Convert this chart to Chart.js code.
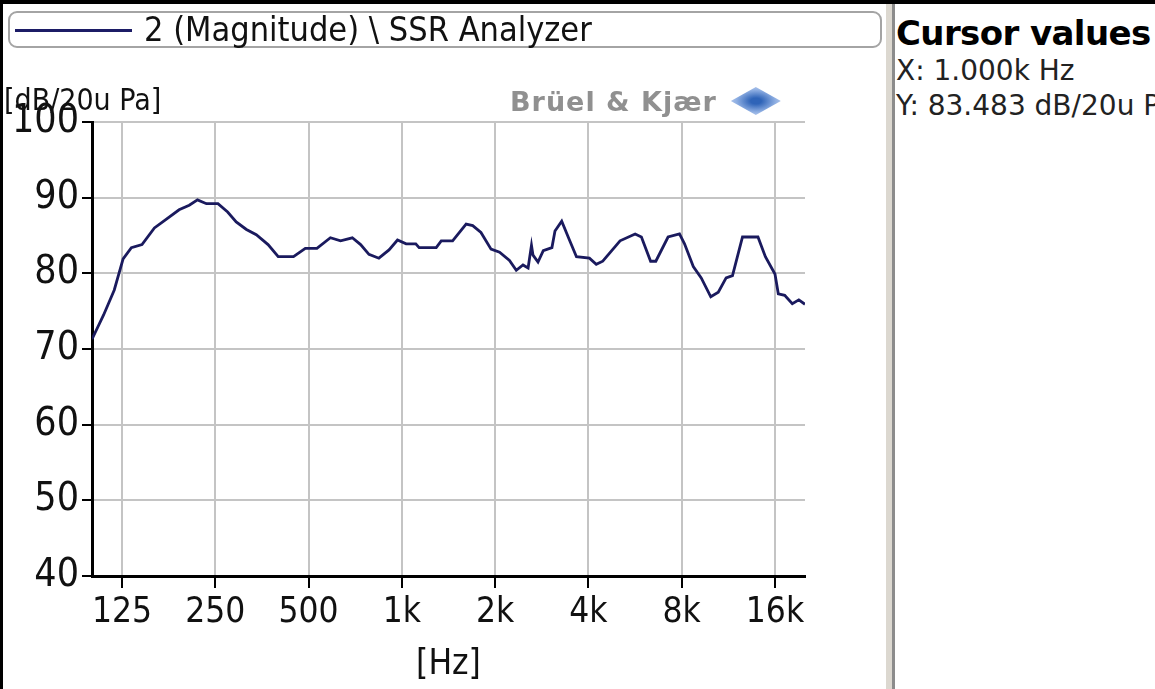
<!DOCTYPE html>
<html>
<head>
<meta charset="utf-8">
<title>SSR Analyzer</title>
<script src="https://cdn.jsdelivr.net/npm/chart.js@4.4.1/dist/chart.umd.min.js"></script>
<style>
  body { margin: 0; background: #fff; }
  #frame { position: relative; width: 1155px; height: 689px; overflow: hidden; background: #fff;
           font-family: 'Liberation Sans Narrow', 'DejaVu Sans Condensed', sans-serif; color: #111; }
  .abs { position: absolute; }
  #legend { left: 8px; top: 11px; width: 870px; height: 33px; border: 2px solid #a4a4a4; border-radius: 9px; }
  #legend .swatch { position: absolute; left: 5px; top: 16px; width: 117px; height: 3px; background: #1c1c66; }
  #legend .label { position: absolute; left: 134px; top: -4px; font-size: 34px; white-space: nowrap; }
  #yunit { left: 4px; top: 82px; font-size: 30px; white-space: nowrap; }
  #logo { left: 510px; top: 86px; font-size: 27px; font-weight: bold; color: #909090; white-space: nowrap;
          font-family: 'DejaVu Sans', sans-serif; letter-spacing: 1px; }
  #logo .mark { display: inline-block; width: 50px; height: 28px; margin-left: 14px; vertical-align: -4px;
                clip-path: polygon(50% 0, 100% 50%, 50% 100%, 0 50%);
                background: radial-gradient(ellipse, #2f64b8 15%, #8eaee2 55%, #dfe8f8 100%); }
  #sep1 { left: 886px; top: 0; width: 6px; height: 689px; background: #dcd8d0; }
  #sep2 { left: 892px; top: 0; width: 3px; height: 689px; background: #8c8c8c; }
  #cursor { left: 896px; top: 0; width: 259px; height: 689px; font-family: 'DejaVu Sans', sans-serif; white-space: nowrap; }
  #cursor .title { position: absolute; left: 0; top: 13px; font-size: 34px; font-weight: bold; color: #000; letter-spacing: -0.6px; }
  #cursor .row { position: absolute; left: 0; font-size: 28px; color: #222; }
  #topbar { left: 0; top: 0; width: 1155px; height: 4px; background: #000; }
  #leftbar { left: 0; top: 0; width: 3px; height: 689px; background: #000; }
  #chartbox { left: 0; top: 0; width: 860px; height: 689px; }
</style>
</head>
<body>
<div id="frame">
  <div id="chartbox" class="abs"><canvas id="spectrum" width="860" height="689"></canvas></div>
  <div id="legend" class="abs"><div class="swatch"></div><div class="label">2 (Magnitude) \ SSR Analyzer</div></div>
  <div id="yunit" class="abs">[dB/20u Pa]</div>
  <div id="logo" class="abs">Brüel &amp; Kjær<span class="mark"></span></div>
  <div id="sep1" class="abs"></div>
  <div id="sep2" class="abs"></div>
  <div id="cursor" class="abs">
    <div class="title">Cursor values</div>
    <div class="row" style="top:54px">X: 1.000k Hz</div>
    <div class="row" style="top:89px">Y: 83.483 dB/20u Pa</div>
  </div>
  <div id="topbar" class="abs"></div>
  <div id="leftbar" class="abs"></div>
</div>
<script>
// magnitude response
const freqHz = [100, 109, 118, 126, 134, 145, 159, 173, 191, 206, 219, 234, 255, 274, 292, 315,
  339, 370, 399, 447, 488, 532, 588, 634, 692, 736, 783, 843, 909, 968, 1032, 1109,
  1137, 1291, 1340, 1458, 1612, 1693, 1800, 1940, 2067, 2225, 2340, 2460, 2555, 2620,
  2650, 2750, 2860, 3050, 3120, 3280, 3450, 3660, 4030, 4240, 4450, 5060, 5660, 5930,
  6350, 6600, 7230, 7870, 8170, 8720, 9250, 9930, 10500, 11130, 11670, 12570, 14100,
  14900, 16000, 16400, 17200, 18200, 19100, 20000];
const levelDb = [71.3, 74.5, 77.8, 81.9, 83.4, 83.8, 86.0, 87.1, 88.4, 89.0, 89.7, 89.2, 89.2, 88.1, 86.8, 85.8,
  85.1, 83.8, 82.2, 82.2, 83.3, 83.3, 84.7, 84.3, 84.7, 83.8, 82.5, 82.0, 83.1, 84.4, 83.9, 83.9,
  83.4, 83.4, 84.3, 84.3, 86.5, 86.3, 85.4, 83.2, 82.8, 81.7, 80.4, 81.1, 80.7, 83.7,
  82.4, 81.5, 83.0, 83.4, 85.6, 86.9, 84.7, 82.2, 82.0, 81.2, 81.6, 84.3, 85.2, 84.8,
  81.6, 81.6, 84.8, 85.2, 83.9, 80.9, 79.4, 76.9, 77.5, 79.4, 79.7, 84.8, 84.8,
  82.2, 79.9, 77.3, 77.1, 76.0, 76.5, 75.9];

const xTickHz = [125, 250, 500, 1000, 2000, 4000, 8000, 16000];
const xTickLabels = ['125', '250', '500', '1k', '2k', '4k', '8k', '16k'];

const fontFam = "'Liberation Sans Narrow', 'DejaVu Sans Condensed', sans-serif";

const ctx = document.getElementById('spectrum');

new Chart(ctx, {
  type: 'line',
  data: {
    datasets: [{
      label: '2 (Magnitude) \\ SSR Analyzer',
      data: freqHz.map((f, i) => ({ x: f, y: levelDb[i] })),
      borderColor: '#1a1a5e',
      borderWidth: 2.8,
      pointRadius: 0,
      tension: 0,
      fill: false
    }]
  },
  options: {
    responsive: false,
    animation: false,
    devicePixelRatio: 1,
    layout: { padding: { top: 122, right: 55, left: 0, bottom: 0 } },
    plugins: { legend: { display: false }, tooltip: { enabled: false } },
    scales: {
      x: {
        type: 'logarithmic',
        min: 100,
        max: 20000,
        afterBuildTicks: s => { s.ticks = xTickHz.map(v => ({ value: v })); },
        afterFit: s => { s.height = 113; },
        ticks: {
          autoSkip: false,
          maxRotation: 0,
          color: '#111',
          padding: 4,
          font: { family: fontFam, size: 35 },
          callback: (v, i) => xTickLabels[i]
        },
        grid: { color: '#c4c4c4', lineWidth: 2, tickColor: '#000', tickLength: 12 },
        border: { color: '#000', width: 3 },
        title: { display: true, text: '[Hz]', color: '#111', font: { family: fontFam, size: 35 }, padding: { top: 0, bottom: 3 } }
      },
      y: {
        min: 40,
        max: 100,
        afterFit: s => { s.width = 92; },
        ticks: {
          stepSize: 10,
          color: '#111',
          padding: 3,
          font: { family: fontFam, size: 39 }
        },
        grid: { color: '#c4c4c4', lineWidth: 2, tickColor: '#000', tickLength: 10 },
        border: { color: '#000', width: 3 }
      }
    }
  }
});
</script>
</body>
</html>
